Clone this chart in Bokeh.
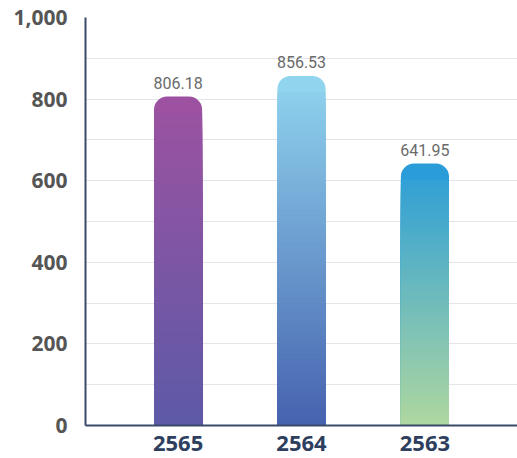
from bokeh.plotting import figure
from bokeh.models import ColumnDataSource, FixedTicker, Range1d, NumeralTickFormatter
from bokeh.embed import file_html
from bokeh.resources import INLINE
from bokeh.core.properties import value

years = ["2565", "2564", "2563"]
values = [806.18, 856.53, 641.95]
labels = ["806.18", "856.53", "641.95"]
y_ticks = [0, 200, 400, 600, 800, 1000]
grid_ticks = [0, 100, 200, 300, 400, 500, 600, 700, 800, 900, 1000]

top_colors = ["#9C52A1", "#90D4EE", "#2A9DD8"]
bottom_colors = ["#5C5AA7", "#4561AE", "#B0D8A0"]


def hex2rgb(h):
    h = h.lstrip("#")
    return tuple(int(h[i:i + 2], 16) for i in (0, 2, 4))


def mix(c0, c1, f):
    a, b = hex2rgb(c0), hex2rgb(c1)
    return "#%02x%02x%02x" % tuple(int(round(a[j] + (b[j] - a[j]) * f)) for j in range(3))


p = figure(width=517, height=458, output_backend="svg", toolbar_location=None,
           x_range=Range1d(-0.75, 2.75), y_range=Range1d(0, 1000),
           min_border_left=85, min_border_right=0, min_border_top=17, min_border_bottom=33)
p.outline_line_color = None
p.background_fill_color = "white"

BAR_W = 0.39
CAP = 40
N = 60

# full bars with rounded top (top colour)
cap_src = ColumnDataSource(dict(x=list(range(len(years))), top=values, color=top_colors))
p.vbar(x="x", top="top", bottom=0, width=BAR_W, source=cap_src, fill_color="color",
       line_color=None, border_radius=(13, 13, 0, 0))

# gradient slices (descending tops, each from 0)
xs, tops, cols = [], [], []
for i, v in enumerate(values):
    base = v - CAP
    for k in range(N):
        h = base * (1 - k / N)
        f = h / v
        xs.append(i)
        tops.append(h)
        cols.append(mix(bottom_colors[i], top_colors[i], f))
grad_src = ColumnDataSource(dict(x=xs, top=tops, color=cols))
p.vbar(x="x", top="top", bottom=0, width=BAR_W, source=grad_src, fill_color="color",
       line_color=None)

# value labels
lab_src = ColumnDataSource(dict(x=list(range(len(years))), y=values, text=labels))
p.text(x="x", y="y", text="text", source=lab_src, y_offset=-8,
       text_align="center", text_baseline="bottom",
       text_font=value("Roboto"), text_font_size="16px", text_color="#6a6a6a")

# axes
p.yaxis.ticker = FixedTicker(ticks=y_ticks)
p.yaxis.formatter = NumeralTickFormatter(format="0,0")
p.yaxis.major_label_text_font = "Open Sans"
p.yaxis.major_label_text_font_style = "bold"
p.yaxis.major_label_text_font_size = "21px"
p.yaxis.major_label_text_color = "#555555"
p.yaxis.major_label_standoff = 12
p.yaxis.axis_line_color = "#3B4A6B"
p.yaxis.axis_line_width = 2
p.yaxis.major_tick_line_color = None
p.yaxis.minor_tick_line_color = None

p.xaxis.ticker = FixedTicker(ticks=list(range(len(years))))
p.xaxis.major_label_overrides = {i: y for i, y in enumerate(years)}
p.xaxis.major_label_text_font = "Open Sans"
p.xaxis.major_label_text_font_style = "bold"
p.xaxis.major_label_text_font_size = "22px"
p.xaxis.major_label_text_color = "#2D3E5E"
p.xaxis.major_label_standoff = 4
p.xaxis.axis_line_color = "#3B4A6B"
p.xaxis.axis_line_width = 2
p.xaxis.major_tick_line_color = None
p.xaxis.minor_tick_line_color = None

p.xgrid.visible = False
p.ygrid.ticker = FixedTicker(ticks=grid_ticks)
p.ygrid.grid_line_color = "#E4E4EA"
p.ygrid.grid_line_width = 1

open("out.html", "w").write(file_html(p, INLINE))
